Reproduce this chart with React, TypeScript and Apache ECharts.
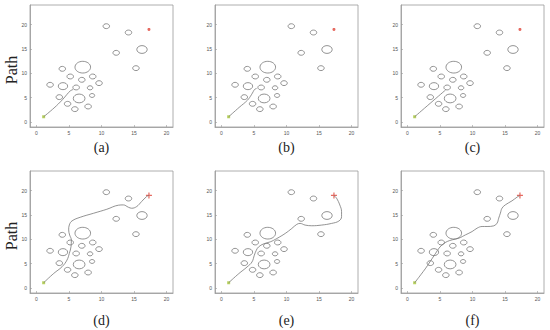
import React, { useEffect, useRef } from "react";
import * as echarts from "echarts";

// Obstacles: centre x, centre y, radius (data units)
const obstacleX = [10.74, 14.15, 12.26, 16.23, 15.3, 7.12, 3.97, 5.19, 6.97, 8.65, 9.62, 2.09, 4.07, 6.1, 8.24, 3.51, 6.56, 8.55, 4.78, 5.9, 7.94];
const obstacleY = [19.66, 18.36, 14.2, 14.88, 11.06, 11.26, 10.92, 9.35, 8.67, 9.35, 7.99, 7.65, 7.37, 7.1, 7.03, 5.12, 4.85, 5.46, 3.75, 2.66, 3.2];
const obstacleR = [0.5, 0.5, 0.5, 0.8, 0.5, 1.2, 0.5, 0.5, 0.5, 0.5, 0.5, 0.5, 0.72, 0.5, 0.42, 0.5, 0.9, 0.4, 0.5, 0.5, 0.5];

const startPoint = [1.1, 1.1];
const goalPoint = [17.3, 19.0];

const pathA = [[1.1, 1.1], [2.7, 2.9], [4.0, 4.6], [4.7, 5.7], [5.2, 6.4], [5.65, 6.7]];
const pathB = [[1.1, 1.1], [2.7, 3.0], [4.0, 4.5], [4.6, 5.6], [4.9, 6.3], [5.1, 6.7], [5.4, 6.9]];
const pathC = [[1.1, 1.1], [5.87, 6.6]];
const pathD = [[1.1, 1.1], [2.65, 3.01], [3.93, 4.38], [4.69, 5.75], [5.05, 7.12], [5.31, 8.49], [5.36, 9.86], [5.1, 10.89], [4.95, 11.92], [5.05, 12.95], [5.46, 13.77], [6.73, 14.52], [8.78, 15.34], [10.82, 16.16], [12.6, 16.99], [13.37, 17.05], [14.13, 16.58], [14.64, 16.37], [15.41, 16.71], [16.17, 17.74], [16.94, 18.77], [17.3, 19.0]];
const pathE = [[1.1, 1.1], [2.65, 2.96], [3.93, 4.33], [4.69, 5.36], [5.05, 6.74], [5.36, 7.77], [5.71, 8.45], [6.48, 9.07], [7.5, 9.48], [8.52, 10.17], [9.8, 11.2], [10.82, 12.23], [11.58, 13.06], [12.09, 13.26], [12.86, 12.92], [13.88, 12.78], [15.41, 12.92], [16.94, 13.26], [18.06, 13.75], [18.47, 14.64], [18.47, 15.67], [18.2, 17.04], [17.7, 18.42], [17.3, 19.0]];
const pathF = [[1.1, 1.1], [2.04, 2.73], [2.81, 4.1], [3.32, 5.12], [3.83, 6.14], [4.34, 7.17], [4.85, 8.19], [5.46, 9.01], [6.12, 9.56], [6.89, 9.9], [7.91, 10.24], [8.93, 10.92], [9.95, 11.6], [10.71, 12.29], [11.48, 12.63], [12.24, 12.63], [13.27, 12.76], [13.78, 13.31], [14.03, 14.33], [14.29, 15.36], [14.54, 16.38], [15.05, 17.06], [16.07, 17.88], [16.84, 18.63], [17.3, 19.0]];

const paths = [pathA, pathB, pathC, pathD, pathE, pathF];
const panelLabels = ["(a)", "(b)", "(c)", "(d)", "(e)", "(f)"];
const tickValues = [0, 5, 10, 15, 20];

const gridLefts = [30, 215, 401];
const gridTops = [5, 171];
const gridW = 143;
const gridH = 122;

export default function App() {
  const ref = useRef<HTMLDivElement>(null);
  useEffect(() => {
    if (!ref.current) return;
    const chart = echarts.init(ref.current, undefined, { renderer: "svg" });
    const obstacles = obstacleX.map((x, i) => [x, obstacleY[i], obstacleR[i]]);
    const grids: any[] = [];
    const xAxes: any[] = [];
    const yAxes: any[] = [];
    const series: any[] = [];
    const graphics: any[] = [];
    const axisCommon = {
      axisLine: { show: true, onZero: false, lineStyle: { color: "#999", width: 0.8 } },
      axisTick: { show: true, inside: true, length: 2, customValues: tickValues, lineStyle: { color: "#999", width: 0.6 } },
      axisLabel: {
        fontSize: 5,
        color: "#555",
        margin: 3,
        fontFamily: "Liberation Sans",
        customValues: tickValues,
        showMinLabel: true,
        showMaxLabel: true,
      },
      splitLine: { show: false },
    };
    for (let p = 0; p < 6; p++) {
      const row = Math.floor(p / 3);
      const col = p % 3;
      grids.push({
        left: gridLefts[col],
        top: gridTops[row],
        width: gridW,
        height: gridH,
        show: true,
        borderColor: "#999",
        borderWidth: 0.8,
        backgroundColor: "#fff",
      });
      xAxes.push({ ...axisCommon, type: "value", gridIndex: p, min: -1, max: 21 });
      yAxes.push({ ...axisCommon, type: "value", gridIndex: p, min: -1, max: 24 });
      series.push({
        type: "custom",
        xAxisIndex: p,
        yAxisIndex: p,
        data: obstacles,
        encode: { x: 0, y: 1 },
        renderItem: (params: any, api: any) => {
          const c = api.coord([api.value(0), api.value(1)]);
          const s = api.size([api.value(2), api.value(2)]);
          return {
            type: "ellipse",
            shape: { cx: c[0], cy: c[1], rx: s[0], ry: s[1] },
            style: { fill: "none", stroke: "#777", lineWidth: 0.8 },
          };
        },
        silent: true,
      });
      series.push({
        type: "line",
        xAxisIndex: p,
        yAxisIndex: p,
        data: paths[p],
        smooth: 0.4,
        showSymbol: false,
        symbol: "none",
        lineStyle: { color: "#777", width: 0.8 },
        silent: true,
      });
      series.push({
        type: "scatter",
        xAxisIndex: p,
        yAxisIndex: p,
        data: [startPoint],
        symbol: "rect",
        symbolSize: 3,
        itemStyle: { color: "#a8c83a" },
        silent: true,
      });
      series.push({
        type: "scatter",
        xAxisIndex: p,
        yAxisIndex: p,
        data: [goalPoint],
        symbol: row === 1 ? "path://M4,0 L6,0 L6,4 L10,4 L10,6 L6,6 L6,10 L4,10 L4,6 L0,6 L0,4 L4,4 Z" : "circle",
        symbolSize: row === 1 ? 6 : 3,
        itemStyle: { color: "#e0453a" },
        silent: true,
      });
      graphics.push({
        type: "text",
        x: gridLefts[col] + gridW / 2,
        y: row === 0 ? 147 : 320,
        style: {
          text: panelLabels[p],
          fontSize: 14,
          fontFamily: "Liberation Serif, serif",
          fill: "#222",
          align: "center",
          verticalAlign: "middle",
        },
      });
    }
    for (let r = 0; r < 2; r++) {
      graphics.push({
        type: "text",
        x: 11,
        y: r === 0 ? 70 : 236,
        rotation: Math.PI / 2,
        style: {
          text: "Path",
          fontSize: 16,
          fontFamily: "Liberation Serif, serif",
          fill: "#222",
          align: "center",
          verticalAlign: "middle",
        },
      });
    }
    chart.setOption({
      animation: false,
      backgroundColor: "#fff",
      grid: grids,
      xAxis: xAxes,
      yAxis: yAxes,
      series,
      graphic: graphics,
    });
    return () => chart.dispose();
  }, []);
  return <div ref={ref} style={{ position: "fixed", left: 0, top: 0, width: 550, height: 330 }} />;
}
